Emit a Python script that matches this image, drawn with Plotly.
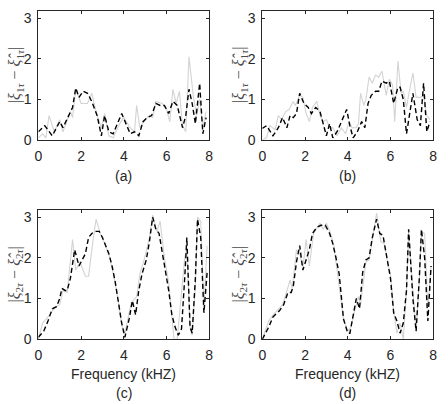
import plotly.graph_objects as go

# ---------- data ----------
# panel (a)
a_est_x = [0, 0.3, 0.65, 1.0, 1.15, 1.4, 1.6, 1.75, 1.9, 2.1, 2.3, 2.5, 2.75, 2.95, 3.1, 3.3, 3.5, 3.9, 4.1, 4.3, 4.5, 4.7, 4.9, 5.1, 5.3, 5.5, 5.7, 5.9, 6.1, 6.3, 6.5, 6.75, 6.9, 7.05, 7.2, 7.35, 7.55, 7.7, 7.85]
a_est_y = [0.2, 0.35, 0.1, 0.45, 0.3, 0.6, 0.8, 1.28, 1.05, 1.2, 1.15, 0.95, 0.6, 0.1, 0.6, 0.2, 0.15, 0.65, 0.4, 0.15, 0.2, 0.1, 0.45, 0.55, 0.6, 0.9, 0.85, 0.85, 0.65, 0.95, 0.85, 0.3, 0.6, 1.25, 0.9, 0.4, 1.4, 0.15, 0.55]
a_ref_x = [0, 0.2, 0.35, 0.5, 0.75, 1.0, 1.15, 1.4, 1.5, 1.6, 1.75, 2.0, 2.3, 2.5, 2.75, 2.95, 3.1, 3.3, 3.5, 3.8, 4.0, 4.3, 4.5, 4.6, 4.75, 5.0, 5.2, 5.35, 5.5, 5.8, 6.0, 6.15, 6.3, 6.45, 6.6, 6.75, 6.9, 7.05, 7.25, 7.4, 7.55, 7.7, 7.85]
a_ref_y = [0.05, 0.15, 0.05, 0.6, 0.2, 0.5, 0.2, 0.55, 0.7, 0.55, 1.25, 0.9, 0.9, 1.15, 0.6, 0.3, 0.65, 0.1, 0.05, 0.4, 0.55, 0.3, 0.2, 0.85, 0.3, 0.5, 0.6, 0.55, 0.95, 0.9, 0.75, 0.45, 1.25, 0.9, 1.2, 0.35, 0.2, 2.05, 1.1, 0.6, 1.0, 0.3, 0.7]

# panel (b)
b_est_x = [0, 0.2, 0.5, 0.75, 0.95, 1.15, 1.3, 1.45, 1.6, 1.75, 1.95, 2.15, 2.3, 2.5, 2.7, 2.85, 3.0, 3.15, 3.3, 3.5, 3.75, 3.95, 4.1, 4.25, 4.45, 4.65, 4.8, 4.95, 5.1, 5.3, 5.45, 5.6, 5.8, 5.95, 6.15, 6.35, 6.45, 6.6, 6.75, 6.9, 7.05, 7.25, 7.4, 7.55, 7.7, 7.85]
b_est_y = [0.28, 0.35, 0.1, 0.3, 0.55, 0.3, 0.6, 0.55, 0.65, 1.15, 0.9, 0.8, 0.65, 0.8, 0.7, 0.4, 0.1, 0.4, 0.05, 0.2, 0.5, 0.75, 0.35, 0.05, 0.2, 0.45, 0.3, 0.9, 1.1, 1.2, 1.2, 1.45, 1.4, 1.45, 0.9, 1.3, 1.3, 1.0, 0.15, 0.7, 1.15, 0.5, 0.35, 1.4, 0.2, 0.45]
b_ref_x = [0, 0.2, 0.35, 0.6, 0.75, 0.9, 1.1, 1.25, 1.45, 1.55, 1.75, 1.9, 2.05, 2.2, 2.35, 2.55, 2.7, 2.85, 3.0, 3.15, 3.3, 3.5, 3.7, 3.9, 4.05, 4.2, 4.4, 4.5, 4.6, 4.75, 4.85, 5.0, 5.15, 5.3, 5.45, 5.6, 5.8, 5.95, 6.1, 6.2, 6.35, 6.5, 6.6, 6.75, 6.9, 7.05, 7.2, 7.4, 7.55, 7.7, 7.85]
b_ref_y = [0.0, 0.05, 0.35, 0.25, 0.6, 0.5, 0.7, 0.75, 0.95, 0.85, 1.1, 1.05, 0.65, 0.45, 0.8, 0.95, 0.6, 0.45, 0.5, 0.3, 0.3, 0.1, 0.3, 0.15, 0.45, 0.3, 0.3, 0.4, 1.15, 0.85, 1.0, 1.55, 1.4, 1.6, 1.55, 1.7, 1.1, 1.5, 1.35, 0.45, 1.95, 1.15, 1.2, 0.8, 1.25, 1.65, 1.05, 1.05, 1.1, 0.6, 0.5]

# panel (c)
c_est_x = [0, 0.25, 0.45, 0.65, 0.85, 1.0, 1.1, 1.25, 1.35, 1.5, 1.7, 1.9, 2.05, 2.2, 2.35, 2.5, 2.7, 2.85, 3.0, 3.15, 3.3, 3.45, 3.6, 3.75, 3.9, 4.05, 4.25, 4.4, 4.55, 4.7, 4.85, 5.05, 5.2, 5.35, 5.5, 5.65, 5.85, 5.95, 6.1, 6.25, 6.4, 6.55, 6.7, 6.85, 6.95, 7.1, 7.2, 7.35, 7.45, 7.6, 7.75, 7.9]
c_est_y = [0.05, 0.2, 0.45, 0.75, 0.8, 1.0, 1.25, 1.2, 1.2, 1.5, 2.2, 1.8, 1.95, 2.1, 2.5, 2.6, 2.65, 2.65, 2.5, 2.3, 2.1, 1.8, 1.4, 0.9, 0.4, 0.05, 0.5, 0.95, 0.6, 1.2, 1.6, 1.95, 2.4, 3.0, 2.7, 2.6, 2.0, 1.75, 1.2, 0.6, 0.3, 0.1, 0.25, 1.5, 2.5, 0.3, 0.15, 1.5, 2.95, 2.5, 0.65, 1.65]
c_ref_x = [0, 0.2, 0.45, 0.65, 0.8, 1.0, 1.15, 1.35, 1.6, 1.75, 1.95, 2.2, 2.35, 2.55, 2.7, 2.9, 3.15, 3.35, 3.55, 3.75, 3.9, 4.05, 4.2, 4.35, 4.6, 4.75, 4.95, 5.2, 5.35, 5.55, 5.7, 5.9, 6.1, 6.25, 6.35, 6.5, 6.7, 6.85, 6.95, 7.1, 7.2, 7.35, 7.45, 7.6, 7.75, 7.9]
c_ref_y = [0.0, 0.4, 0.55, 0.7, 0.8, 0.85, 1.2, 1.15, 2.45, 1.7, 1.9, 1.55, 1.55, 2.4, 2.95, 2.6, 2.3, 2.0, 1.5, 0.9, 0.35, 0.15, 0.5, 0.9, 1.05, 1.6, 1.95, 2.5, 3.05, 2.65, 2.9, 2.0, 1.4, 0.5, 0.0, 0.0, 1.2, 2.0, 2.2, 0.3, 0.1, 1.3, 3.0, 2.9, 0.8, 2.3]

# panel (d)
d_est_x = [0, 0.3, 0.5, 0.8, 1.0, 1.2, 1.35, 1.45, 1.6, 1.75, 1.9, 2.05, 2.2, 2.35, 2.55, 2.75, 2.95, 3.15, 3.3, 3.45, 3.6, 3.8, 4.0, 4.1, 4.25, 4.4, 4.55, 4.7, 4.85, 5.0, 5.15, 5.35, 5.5, 5.65, 5.85, 6.0, 6.15, 6.3, 6.45, 6.6, 6.75, 6.85, 7.05, 7.2, 7.35, 7.45, 7.6, 7.75, 7.9]
d_est_y = [0.0, 0.3, 0.55, 0.7, 0.85, 1.15, 1.15, 1.3, 1.9, 2.3, 1.7, 1.95, 2.2, 2.6, 2.75, 2.8, 2.8, 2.6, 2.35, 2.0, 1.6, 0.5, 0.15, 0.15, 0.6, 1.0, 0.75, 1.65, 1.95, 2.0, 2.5, 2.95, 2.6, 2.55, 1.95, 1.5, 0.65, 0.45, 0.15, 0.4, 1.2, 2.7, 1.0, 0.2, 1.5, 2.7, 2.0, 0.45, 1.8]
d_ref_x = [0, 0.3, 0.5, 0.75, 0.95, 1.1, 1.3, 1.4, 1.6, 1.75, 1.9, 2.05, 2.2, 2.4, 2.7, 2.85, 3.0, 3.2, 3.35, 3.55, 3.8, 4.0, 4.15, 4.3, 4.5, 4.6, 4.85, 5.0, 5.2, 5.35, 5.55, 5.7, 5.85, 6.0, 6.15, 6.3, 6.45, 6.6, 6.75, 6.85, 7.05, 7.2, 7.35, 7.45, 7.6, 7.75, 7.9]
d_ref_y = [0.0, 0.45, 0.6, 0.75, 0.85, 1.1, 1.45, 1.25, 2.2, 2.1, 1.75, 2.45, 1.8, 2.6, 2.85, 2.7, 2.85, 2.6, 2.3, 1.5, 0.5, 0.2, 0.3, 0.65, 1.05, 0.85, 1.9, 1.95, 2.6, 3.1, 2.4, 2.35, 1.95, 1.6, 0.7, 0.15, 0.4, 0.0, 1.2, 2.65, 1.2, 0.25, 1.4, 2.65, 2.6, 0.8, 1.8]

panel_labels = ["(a)", "(b)", "(c)", "(d)"]
x_ticks = [0, 2, 4, 6, 8]
y_ticks = [0, 1, 2, 3]
x_title = "Frequency (kHZ)"
y_titles = [
    "|<i>ξ</i><sub>1<i>τ</i></sub> − <i>ξ̂</i><sub>1<i>τ</i></sub>|",
    "|<i>ξ</i><sub>1<i>τ</i></sub> − <i>ξ̂</i><sub>1<i>τ</i></sub>|",
    "|<i>ξ</i><sub>2<i>τ</i></sub> − <i>ξ̂</i><sub>2<i>τ</i></sub>|",
    "|<i>ξ</i><sub>2<i>τ</i></sub> − <i>ξ̂</i><sub>2<i>τ</i></sub>|",
]

panels = [
    (a_ref_x, a_ref_y, a_est_x, a_est_y),
    (b_ref_x, b_ref_y, b_est_x, b_est_y),
    (c_ref_x, c_ref_y, c_est_x, c_est_y),
    (d_ref_x, d_ref_y, d_est_x, d_est_y),
]

W, H = 448, 404
# plot-area pixel boxes (left, right, top, bottom)
boxes = [(35, 209, 10, 142), (263, 437, 10, 142), (35, 209, 214, 346), (263, 437, 214, 346)]
yranges = [[0, 3.19], [0, 3.19], [0, 3.17], [0, 3.17]]

AX = "#262626"
fig = go.Figure()
layout = dict(
    width=W, height=H,
    margin=dict(l=0, r=0, t=0, b=0),
    paper_bgcolor="white", plot_bgcolor="white",
    showlegend=False,
    font=dict(family="Liberation Sans, Arial, sans-serif", size=14, color=AX),
)
annotations = []
for i, (rx, ry, ex, ey) in enumerate(panels):
    n = "" if i == 0 else str(i + 1)
    xa, ya = "x" + n, "y" + n
    fig.add_trace(go.Scatter(x=rx, y=ry, mode="lines", xaxis=xa, yaxis=ya,
                             line=dict(color="#d3d3d3", width=1.1)))
    fig.add_trace(go.Scatter(x=ex, y=ey, mode="lines", xaxis=xa, yaxis=ya,
                             line=dict(color="black", width=1.4, dash="5px,3px")))
    l, r, t, b = boxes[i]
    common = dict(showgrid=False, zeroline=False, showline=True, linecolor=AX,
                  linewidth=1, mirror="ticks", ticks="inside", ticklen=3,
                  tickcolor=AX, tickfont=dict(size=14, color=AX))
    layout["xaxis" + n] = dict(domain=[l / W, r / W], range=[0, 8], tickvals=x_ticks,
                               anchor=ya, ticklabelstandoff=3, **common)
    layout["yaxis" + n] = dict(domain=[1 - b / H, 1 - t / H], range=yranges[i],
                               tickvals=y_ticks, anchor=xa, ticklabelstandoff=3, **common)
    cx = (l + r) / 2 / W
    cy = (t + b) / 2
    annotations.append(dict(text=y_titles[i], x=(l - 23) / W, y=1 - cy / H,
                            xref="paper", yref="paper", showarrow=False, textangle=-90,
                            xanchor="center", yanchor="middle",
                            font=dict(family="Liberation Serif, serif", size=16, color="#4a4a4a")))
    if i < 2:
        annotations.append(dict(text=panel_labels[i], x=cx, y=1 - 179 / H, xref="paper",
                                yref="paper", showarrow=False, xanchor="center",
                                yanchor="middle", font=dict(size=14, color=AX)))
    else:
        annotations.append(dict(text=x_title, x=cx, y=1 - 382 / H, xref="paper",
                                yref="paper", showarrow=False, xanchor="center",
                                yanchor="middle", font=dict(size=14, color=AX)))
        annotations.append(dict(text=panel_labels[i], x=cx, y=1 - 401 / H, xref="paper",
                                yref="paper", showarrow=False, xanchor="center",
                                yanchor="middle", font=dict(size=14, color=AX)))
layout["annotations"] = annotations
fig.update_layout(**layout)
fig.write_html("out.html")
